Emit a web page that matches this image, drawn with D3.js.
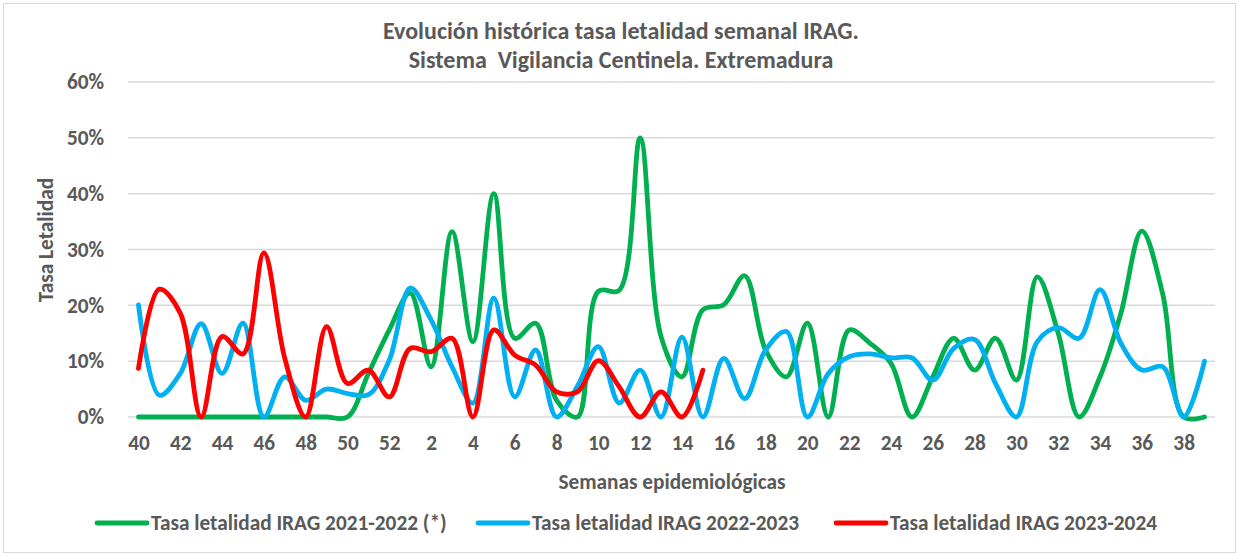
<!DOCTYPE html>
<html><head><meta charset="utf-8">
<script src="https://cdn.jsdelivr.net/npm/d3@7"></script>
<style>
html,body{margin:0;padding:0;background:#fff;}
svg{display:block;font-family:Calibri,Carlito,Lato,sans-serif;font-weight:bold;}
</style></head><body>
<svg id="c" width="1239" height="556"></svg>
<script>
const weeks = ["40","41","42","43","44","45","46","47","48","49","50","51","52",
  "1","2","3","4","5","6","7","8","9","10","11","12","13","14","15","16","17","18","19","20",
  "21","22","23","24","25","26","27","28","29","30","31","32","33","34","35","36","37","38","39"];
const tickLabels = ["40","42","44","46","48","50","52","2","4","6","8","10","12","14","16","18","20","22","24","26","28","30","32","34","36","38"];
const yTicks = [0,10,20,30,40,50,60];
const seriesNames = ["Tasa letalidad IRAG 2021-2022 (*)","Tasa letalidad IRAG 2022-2023","Tasa letalidad IRAG 2023-2024"];
const seriesColors = ["#00B050","#00B0F0","#FF0000"];
const green2122 = [0,0,0,0,0,0,0,0,0,0,0,7.8,15.6,
  22.2,9,33.2,13.5,40,14.1,16.8,3,0,22.5,22.7,50,14.4,7.2,19.2,20.1,25.3,12,7.2,16.8,
  0,15.6,13.2,9.6,0,7.2,14.1,8.4,14.1,6.6,25.1,15,0,7.2,18.6,33.3,22,0,0];
const blue2223 = [20.1,3.9,7.8,16.7,7.8,16.8,0,7.2,3,5,4.2,4,10.2,
  23.1,17.4,9,2.5,21.3,3.6,12,0,5.5,12.6,2.5,8.4,0,14.3,0,10.5,3.3,12,15.3,0,
  7.8,10.8,11.3,10.6,10.6,6.6,12.3,13.9,6,0,13.5,16,14.1,22.8,13.2,8.4,9,0,10];
const red2324 = [8.7,22.9,18.6,0,14.4,11.3,29.4,10.5,0,16.2,6,8.4,3.6,
  12.3,11.7,14.1,0,15.6,11.1,9.3,4.5,4.5,10.1,5.4,0,4.5,0,8.4];

const svg = d3.select("#c");
const textColor = "#595959";
const FS = "21.3px";
const L = 128, R = 1215, T = 82, B = 417;

svg.append("rect").attr("x",3.5).attr("y",3.5).attr("width",1232).attr("height",549)
  .attr("fill","#fff").attr("stroke","#d9d9d9").attr("stroke-width",1);

const x = d3.scalePoint().domain(weeks).range([L,R]).padding(0.5);
const y = d3.scaleLinear().domain([0,60]).range([B,T]);

// gridlines
svg.append("g").selectAll("line").data(yTicks).join("line")
  .attr("x1",L).attr("x2",R).attr("y1",d=>y(d)).attr("y2",d=>y(d))
  .attr("stroke","#d9d9d9").attr("stroke-width",1.5);

// y axis labels
const yAxis = svg.append("g").attr("transform",`translate(${L-21},0)`)
  .call(d3.axisLeft(y).tickValues(yTicks).tickFormat(d=>d+"%").tickSize(0));
yAxis.select(".domain").remove();
yAxis.selectAll("text").attr("fill",textColor).style("font-size",FS)
  .style("font-family","Calibri,Carlito,Lato,sans-serif").style("font-weight","bold");

// x axis labels
const xAxis = svg.append("g").attr("transform",`translate(0,${B+15})`)
  .call(d3.axisBottom(x).tickValues(tickLabels.map((t,i)=>weeks[i*2])).tickSize(0));
xAxis.select(".domain").remove();
xAxis.selectAll("text").attr("fill",textColor).style("font-size",FS)
  .style("font-family","Calibri,Carlito,Lato,sans-serif").style("font-weight","bold");

// lines
const line = d3.line().x((d,i)=>x(weeks[i])).y(d=>y(d)).curve(d3.curveCatmullRom.alpha(0.5));
const data = [green2122, blue2223, red2324];
svg.append("g").selectAll("path").data(data).join("path")
  .attr("d",d=>line(d)).attr("fill","none")
  .attr("stroke",(d,i)=>seriesColors[i]).attr("stroke-width",4.8)
  .attr("stroke-linecap","round").attr("stroke-linejoin","round");

// titles
svg.append("text").attr("x",621).attr("y",39).attr("text-anchor","middle")
  .attr("fill",textColor).style("font-size","24px").text("Evolución histórica tasa letalidad semanal IRAG.");
svg.append("text").attr("x",621).attr("y",68).attr("text-anchor","middle")
  .attr("fill",textColor).style("font-size","24px").attr("xml:space","preserve").style("white-space","pre")
  .text("Sistema  Vigilancia Centinela. Extremadura");
svg.append("text").attr("transform","translate(53,240) rotate(-90)").attr("text-anchor","middle")
  .attr("fill",textColor).style("font-size",FS).text("Tasa Letalidad");
svg.append("text").attr("x",672).attr("y",489).attr("text-anchor","middle")
  .attr("fill",textColor).style("font-size",FS).text("Semanas epidemiológicas");

// legend
const legX = [97, 478, 836];
const lg = svg.append("g").selectAll("g").data(seriesNames).join("g")
  .attr("transform",(d,i)=>`translate(${legX[i]},523)`);
lg.append("line").attr("x1",0).attr("x2",50).attr("y1",0).attr("y2",0)
  .attr("stroke",(d,i)=>seriesColors[i]).attr("stroke-width",4.8).attr("stroke-linecap","round");
lg.append("text").attr("x",54).attr("y",7).attr("fill",textColor).style("font-size",FS).text(d=>d);
</script>
</body></html>
